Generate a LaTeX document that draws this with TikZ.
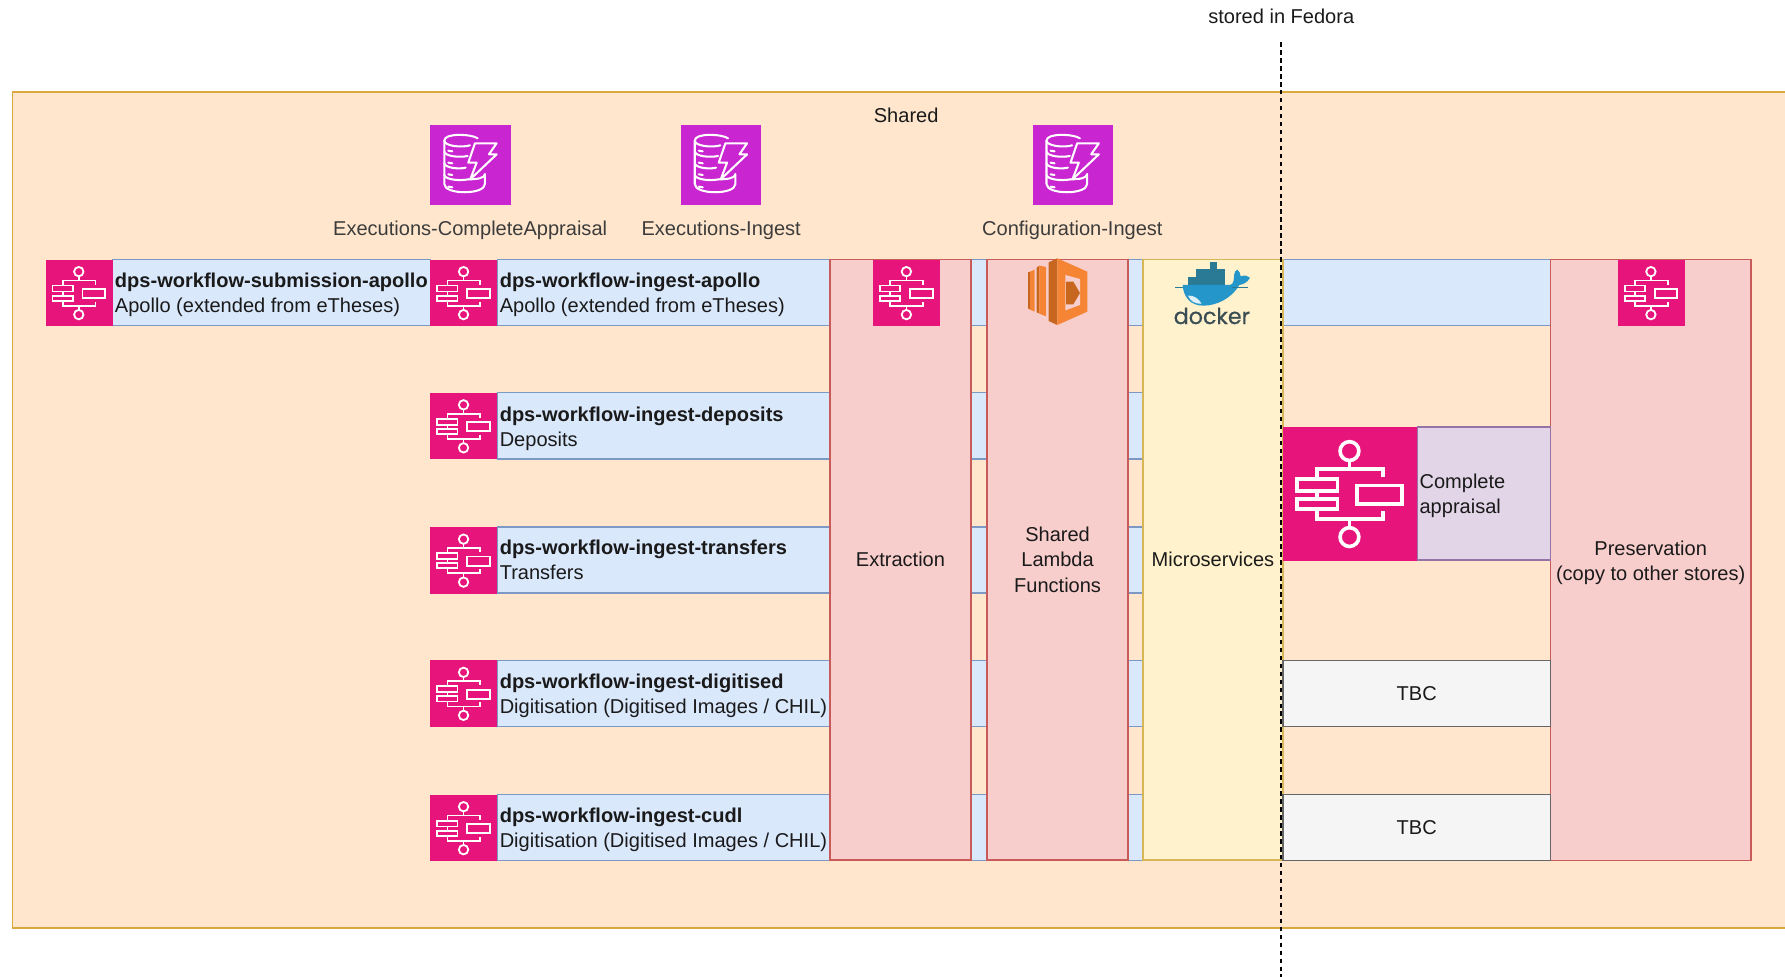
\documentclass[tikz,border=0pt]{standalone}
\usepackage{fontspec}
\setmainfont{Liberation Sans}
\newfontfamily\dockerfont[FakeBold=0.6]{Poppins}
\definecolor{sharedfill}{HTML}{FFE6CC}
\definecolor{sharedline}{HTML}{D9A93F}
\definecolor{bluefill}{HTML}{DAE8FC}
\definecolor{blueline}{HTML}{7C98C4}
\definecolor{redfill}{HTML}{F8CECC}
\definecolor{redline}{HTML}{C85A5A}
\definecolor{yelfill}{HTML}{FFF2CC}
\definecolor{yelline}{HTML}{D6B656}
\definecolor{purfill}{HTML}{E1D5E7}
\definecolor{purline}{HTML}{9673A6}
\definecolor{greyfill}{HTML}{F5F5F5}
\definecolor{greyline}{HTML}{666666}
\definecolor{stepcol}{HTML}{E7157B}
\definecolor{dyncol}{HTML}{C925D1}
\definecolor{txt}{HTML}{1A1A1A}
\definecolor{lamA}{HTML}{F58534}
\definecolor{lamB}{HTML}{C7661F}
\definecolor{lamC}{HTML}{E8812D}
\definecolor{dockblue}{HTML}{2496C9}
\definecolor{dockdark}{HTML}{2A7A96}
\definecolor{dockgrey}{HTML}{3A4D54}
\tikzset{
  every node/.style={font=\fontsize{17.6}{22}\selectfont, text=txt, inner sep=0pt, outer sep=0pt},
  boxbase/.style={anchor=north west, line width=1.3pt, align=center},
  bluebox/.style={boxbase, draw=blueline, fill=bluefill},
  redbox/.style={boxbase, draw=redline, fill=redfill},
  yelbox/.style={boxbase, draw=yelline, fill=yelfill},
  purbox/.style={boxbase, draw=purline, fill=purfill},
  greybox/.style={boxbase, draw=greyline, fill=greyfill},
  stepsq/.style={anchor=north west, fill=stepcol},
  dynsq/.style={anchor=north west, fill=dyncol, minimum width=70.5pt, minimum height=70.5pt},
  plainlabel/.style={text=txt!85!white},
  rowtext/.style={anchor=west, align=left},
}
% step-function glyph: x, y, size
\newcommand{\stepglyph}[3]{%
  \begin{scope}[shift={(#1,#2)}, x=#3pt, y=-#3pt, draw=white, line width=#3*0.027pt]
    \draw (.495,.18) circle[radius=.07];
    \draw (.495,.82) circle[radius=.07];
    \draw (.495,.25) -- (.495,.3125);
    \draw (.255,.3875) -- (.255,.3125) -- (.745,.3125) -- (.745,.375);
    \draw (.255,.6) -- (.255,.6875) -- (.745,.6875) -- (.745,.625);
    \draw (.495,.6875) -- (.495,.75);
    \draw (.105,.3875) rectangle (.405,.475);
    \draw (.105,.5375) rectangle (.405,.6125);
    \draw (.255,.475) -- (.255,.5375);
    \draw (.55,.4375) rectangle (.8875,.575);
  \end{scope}}
% dynamo glyph at zoom-crop origin
\newcommand{\dynglyph}[2]{%
  \begin{scope}[shift={(#1,#2)}, x=.2928pt, y=-.2928pt, draw=white, line width=1.8pt, line cap=round, line join=round]
    \draw (158,55) .. controls (140,42) and (58,38) .. (58,62) .. controls (58,78) and (110,84) .. (135,76);
    \draw (58,62) -- (58,192) .. controls (58,225) and (180,225) .. (180,192) -- (180,165);
    \draw (58,95) .. controls (62,110) and (105,113) .. (128,108);
    \draw (58,130) .. controls (62,145) and (105,148) .. (122,143);
    \draw (58,165) .. controls (62,180) and (105,183) .. (130,178);
    \draw (130,178) .. controls (155,178) and (180,175) .. (180,162);
    \draw (70,92) -- (82,94); \draw (70,128) -- (82,130); \draw (70,163) -- (82,165); \draw (70,200) -- (82,202);
    \draw[fill=dyncol] (150,70) -- (215,70) -- (192,103) -- (215,103) -- (136,178) -- (155,128) -- (130,128) -- cycle;
  \end{scope}}
\begin{document}
\begin{tikzpicture}[x=1pt,y=-1pt]
\useasboundingbox (0,0) rectangle (1568,858);
\fill[white] (0,0) rectangle (1568,858);
\newcommand{\bx}[7]{\node[#1, minimum width=#5-#4, minimum height=#7-#6] (#2) at (#4,#6) {#3};}
% shared background
\draw[sharedline, fill=sharedfill, line width=1.3pt] (1575,81) -- (11,81) -- (11,815) -- (1575,815);
\node[anchor=center] (shared) at (796,101) {Shared};
\node[anchor=center] (fedora) at (1125.5,14) {stored in Fedora};
% dynamo tables
\node[dynsq] (d1) at (378,110) {};
\dynglyph{373.3}{105.4}
\node[plainlabel] (d1t) at (413,202) {Executions-CompleteAppraisal};
\node[dynsq] (d2) at (598,110) {};
\dynglyph{593.3}{105.4}
\node[plainlabel] (d2t) at (633.5,202) {Executions-Ingest};
\node[dynsq] (d3) at (907,110) {};
\dynglyph{902.3}{105.4}
\node[plainlabel] (d3t) at (942,202) {Configuration-Ingest};
% blue rows
\bx{bluebox}{r0}{}{99}{378}{228}{286}
\bx{bluebox}{r1}{}{437}{1362}{228}{286}
\bx{bluebox}{r2}{}{437}{1004}{345}{403}
\bx{bluebox}{r3}{}{437}{1004}{463}{521}
\bx{bluebox}{r4}{}{437}{1004}{580}{638}
\bx{bluebox}{r5}{}{437}{1004}{698}{756}
\node[rowtext] (t0) at (101,259) {\textbf{dps-workflow-submission-apollo}\\Apollo (extended from eTheses)};
\node[rowtext] (t1) at (439,259) {\textbf{dps-workflow-ingest-apollo}\\Apollo (extended from eTheses)};
\node[rowtext] (t2) at (439,376.5) {\textbf{dps-workflow-ingest-deposits}\\Deposits};
\node[rowtext] (t3) at (439,492) {\textbf{dps-workflow-ingest-transfers}\\Transfers};
\node[rowtext] (t4) at (439,611.5) {\textbf{dps-workflow-ingest-digitised}\\Digitisation (Digitised Images / CHIL)};
\node[rowtext] (t5) at (439,729) {\textbf{dps-workflow-ingest-cudl}\\Digitisation (Digitised Images / CHIL)};
% step icons
\foreach \nm/\xx/\yy in {s0/40/228,s1/378/228,s2/378/345,s3/378/463,s4/378/580,s5/378/698}{
  \node[stepsq, minimum width=59pt, minimum height=58.5pt] (\nm) at (\xx,\yy) {};
  \stepglyph{\xx}{\yy}{59}
}
% columns
\bx{redbox}{extr}{Extraction}{729}{853}{228}{755.5}
\bx{redbox}{lam}{Shared\\Lambda\\Functions}{867}{991}{228}{755.5}
\bx{yelbox}{micro}{Microservices}{1004}{1127}{228}{755.5}
\bx{redbox}{pres}{}{1362}{1538}{228}{756}
\node[align=center] (prest) at (1450,494) {Preservation\\(copy to other stores)};
\node[stepsq, minimum width=59pt, minimum height=58.5pt] (s6) at (767,228) {};
\stepglyph{767}{228}{59}
\node[stepsq, minimum width=59pt, minimum height=58.5pt] (s7) at (1421,228) {};
\stepglyph{1421}{228}{59}
% complete appraisal
\bx{purbox}{compl}{}{1245}{1362}{375}{492}
\node[rowtext] (complt) at (1247,435.5) {Complete\\appraisal};
\node[stepsq, minimum width=118pt, minimum height=117.5pt] (s8) at (1127,375) {};
\stepglyph{1127}{375}{118}
% TBC
\bx{greybox}{tbc1}{TBC}{1127}{1362}{580}{638}
\bx{greybox}{tbc2}{TBC}{1127}{1362}{698}{756}
% lambda logo
\begin{scope}[shift={(896,224)}, x=.2928pt, y=-.2928pt]
  \fill[lamB] (24,52) -- (30,50) -- (30,164) -- (24,160) -- cycle;
  \fill[lamA] (30,50) -- (44,44) -- (44,170) -- (30,164) -- cycle;
  \fill[lamB] (50,38) -- (58,32) -- (58,176) -- (50,172) -- cycle;
  \fill[lamA] (58,32) -- (78,36) -- (78,184) -- (58,176) -- cycle;
  \fill[lamB] (86,22) -- (112,10) -- (112,210) -- (86,198) -- cycle;
  \fill[lamA] (112,10) -- (202,50) -- (202,170) -- (112,210) -- cycle;
  \fill[redfill] (136,60) -- (180,72) -- (180,150) -- (136,166) -- cycle;
  \fill[lamB] (138,80) -- (160,80) -- (180,114) -- (160,148) -- (138,148) -- cycle;
\end{scope}
% docker logo
\begin{scope}[shift={(1019,224)}, x=.2928pt, y=-.2928pt]
  \fill[dockdark] (150,22) rectangle (172,65);
  \fill[dockdark] (107,42) rectangle (195,85);
  \fill[dockdark] (85,65) rectangle (195,90);
  \fill[dockblue] (68,90) -- (210,90) .. controls (222,88) and (222,70) .. (222,60)
     .. controls (222,52) and (228,44) .. (232,44) .. controls (240,50) and (240,56) .. (242,64)
     .. controls (255,60) and (262,62) .. (270,68) .. controls (262,84) and (248,88) .. (238,90)
     .. controls (215,130) and (170,152) .. (130,152) .. controls (90,152) and (70,125) .. (68,90) -- cycle;
  \fill[white!85!dockblue] (84,122) .. controls (100,120) and (115,130) .. (125,146) .. controls (105,148) and (90,138) .. (84,122) -- cycle;
  \draw[dockdark, line width=.6pt] (45,97) -- (68,97) (215,97) -- (265,97);
\end{scope}
\node[font=\dockerfont\fontsize{19.5}{22}\selectfont, text=dockgrey] (dock) at (1064.5,277.5) {docker};
% fedora divider
\coordinate (divtop) at (1125.5,37);
\coordinate (divbot) at (1125.5,858);
\draw[black, line width=1.5pt, dash pattern=on 4pt off 3pt] (divtop) -- (divbot);
\end{tikzpicture}
\end{document}
